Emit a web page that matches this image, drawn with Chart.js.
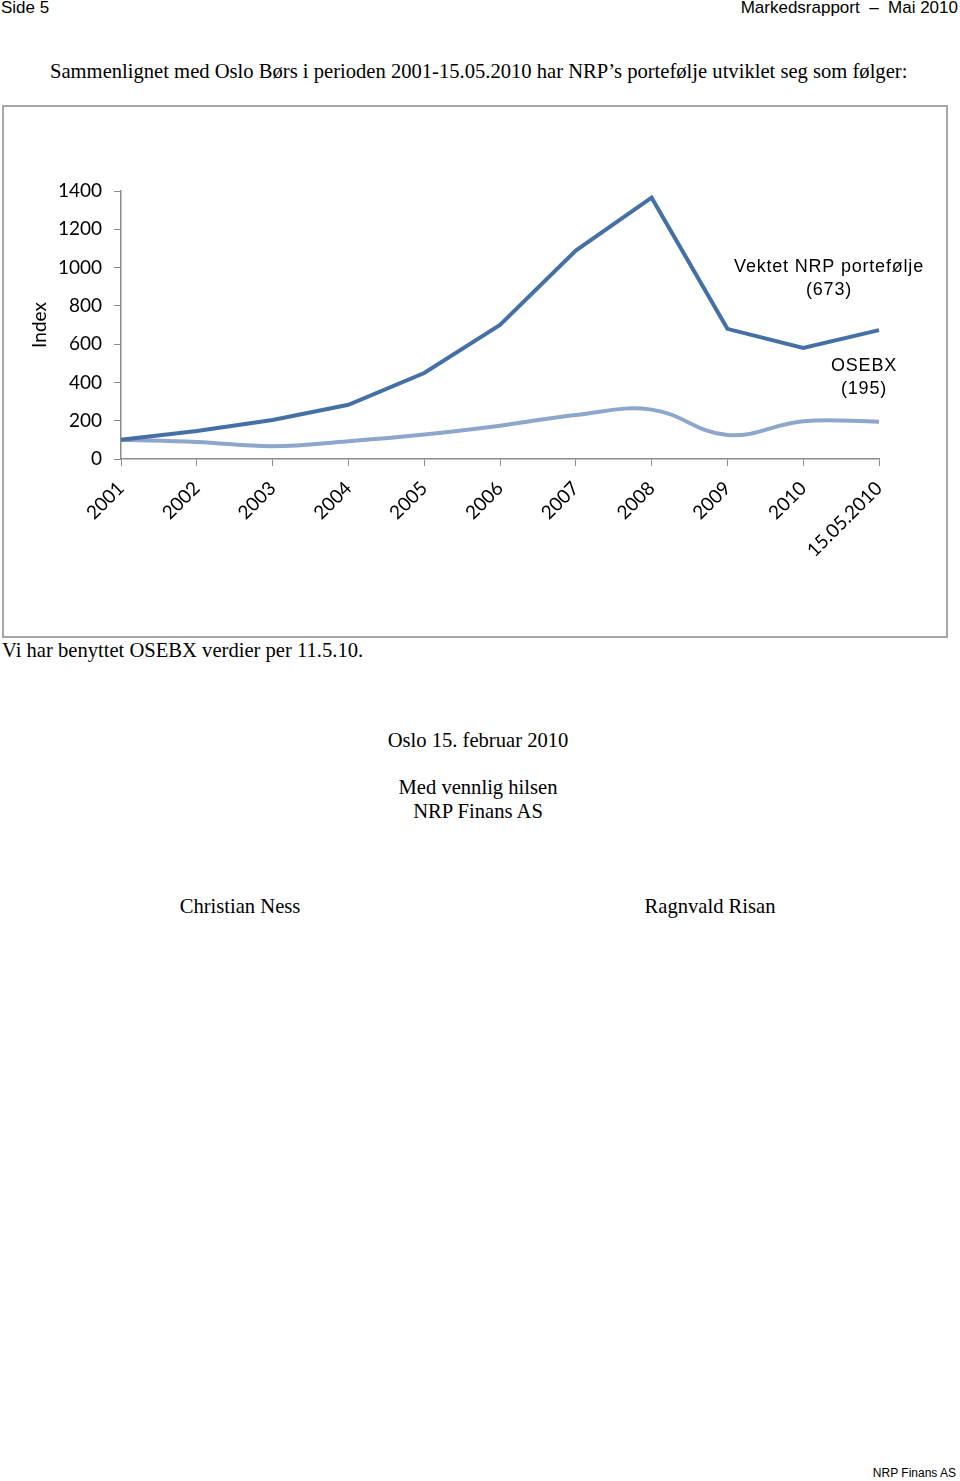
<!DOCTYPE html>
<html>
<head>
<meta charset="utf-8">
<script src="https://cdn.jsdelivr.net/npm/chart.js@4.4.1/dist/chart.umd.min.js"></script>
<style>
    body { margin: 0; width: 960px; height: 1481px; background: #fff; position: relative; font-family: "Liberation Serif", serif; color: #000; }
    .abs { position: absolute; white-space: nowrap; }
    .head { font-family: "Liberation Sans Narrow", "Liberation Sans", sans-serif; font-size: 17px; top: -2px; }
    .serif { font-size: 20.6px; }
    #chartBox { position: absolute; left: 2px; top: 105px; width: 942px; height: 529px; border: 2px solid #a6a6a6; box-sizing: content-box; }
    #chartWrap { position: absolute; left: 0; top: 0; width: 942px; height: 529px; }
</style>
</head>
<body>
<div class="abs head" style="left:1px;">Side 5</div>
<div class="abs head" style="right:2px;">Markedsrapport &nbsp;–&nbsp; Mai 2010</div>
<div class="abs serif" style="left:50px; top:60px;">Sammenlignet med Oslo Børs i perioden 2001-15.05.2010 har NRP’s portefølje utviklet seg som følger:</div>

<div id="chartBox">
    <div id="chartWrap"><canvas id="indexChart"></canvas></div>
</div>

<div class="abs serif" style="left:2px; top:639px;">Vi har benyttet OSEBX verdier per 11.5.10.</div>
<div class="abs serif" style="left:0; width:956px; text-align:center; top:729px;">Oslo 15. februar 2010</div>
<div class="abs serif" style="left:0; width:956px; text-align:center; top:776px;">Med vennlig hilsen</div>
<div class="abs serif" style="left:0; width:956px; text-align:center; top:800px;">NRP Finans AS</div>
<div class="abs serif" style="left:140px; width:200px; text-align:center; top:895px;">Christian Ness</div>
<div class="abs serif" style="left:610px; width:200px; text-align:center; top:895px;">Ragnvald Risan</div>
<div class="abs" style="right:4px; top:1466px; font-family:'Liberation Sans Narrow','Liberation Sans',sans-serif; font-size:12px;">NRP Finans AS</div>

<script>
// chart data
const years = ['2001', '2002', '2003', '2004', '2005', '2006', '2007', '2008', '2009', '2010', '15.05.2010'];
const nrpValues = [100, 146, 204, 283, 449, 700, 1089, 1365, 680, 580, 673];
const osebxValues = [100, 89, 67, 93, 128, 174, 230, 258, 125, 197, 195];
const yTicks = [0, 200, 400, 600, 800, 1000, 1200, 1400];

const seriesLabels = [
    { lines: ['Vektet NRP portefølje', '(673)'], x: 825, y: 160 },
    { lines: ['OSEBX', '(195)'], x: 860, y: 259 }
];

// draws the text labels next to the lines
const lineLabels = {
    id: 'lineLabels',
    afterDatasetsDraw(chart) {
        const ctx = chart.ctx;
        ctx.save();
        ctx.font = '18px "Liberation Sans", Arial, sans-serif';
        ctx.letterSpacing = '0.8px';
        ctx.fillStyle = '#000';
        ctx.textAlign = 'center';
        ctx.textBaseline = 'middle';
        seriesLabels.forEach(lbl => {
            lbl.lines.forEach((line, i) => {
                ctx.fillText(line, lbl.x, lbl.y + i * 23);
            });
        });
        ctx.restore();
    }
};

const tickFont = { family: 'Lato, "Open Sans", sans-serif', size: 19 };

new Chart(document.getElementById('indexChart'), {
    type: 'line',
    data: {
        labels: years,
        datasets: [
            {
                label: 'Vektet NRP portefølje',
                data: nrpValues,
                borderColor: '#4470a6',
                borderWidth: 4,
                pointRadius: 0,
                tension: 0,
                fill: false
            },
            {
                label: 'OSEBX',
                data: osebxValues,
                borderColor: '#8da6cc',
                borderWidth: 4,
                pointRadius: 0,
                tension: 0.4,
                fill: false
            }
        ]
    },
    options: {
        responsive: true,
        maintainAspectRatio: false,
        animation: false,
        layout: { padding: { top: 84, right: 67, left: 0, bottom: 0 } },
        plugins: {
            legend: { display: false },
            tooltip: { enabled: false }
        },
        scales: {
            x: {
                offset: false,
                grid: { drawOnChartArea: false, color: '#8c8c8c', tickLength: 7 },
                border: { color: '#8c8c8c', width: 1.5 },
                ticks: { color: '#000', font: tickFont, maxRotation: 45, minRotation: 45, padding: 11 },
                afterFit(scale) { scale.height = 177; }
            },
            y: {
                min: 0,
                max: 1400,
                afterBuildTicks(scale) { scale.ticks = yTicks.map(v => ({ value: v })); },
                grid: { drawOnChartArea: false, color: '#8c8c8c', tickLength: 7 },
                border: { color: '#8c8c8c', width: 1.5 },
                ticks: { color: '#000', font: tickFont, padding: 12, callback: v => String(v) },
                title: { display: true, text: 'Index', color: '#000', font: tickFont, padding: { top: 24, bottom: 0 } },
                afterFit(scale) { scale.width = 117; }
            }
        }
    },
    plugins: [lineLabels]
});
</script>
</body>
</html>
